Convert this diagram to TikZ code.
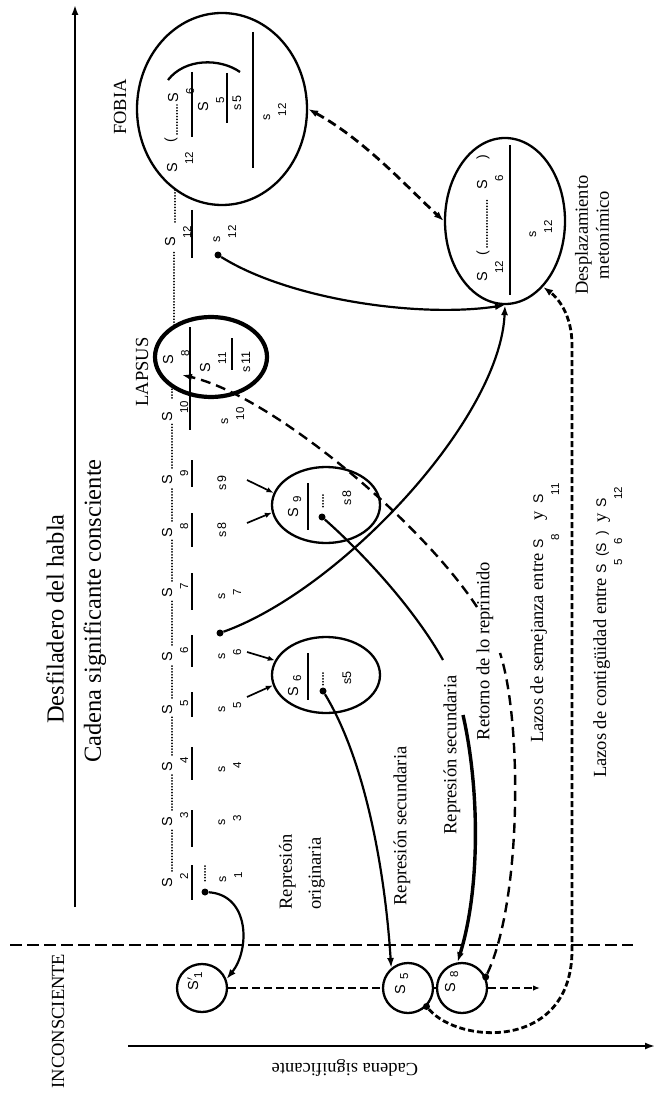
\documentclass[tikz,border=0pt]{standalone}
\usepackage{fontspec}
\setmainfont{Liberation Serif}
\newfontfamily\labfont{Liberation Sans}
\usetikzlibrary{arrows.meta,shapes.geometric}
\newcommand{\lowd}[2]{#1\kern-1.5pt\raisebox{-16pt}{\fontsize{11.5}{11.5}\selectfont #2}}
\newcommand{\nsd}[2]{#1\hspace{5pt}\raisebox{-3pt}{\fontsize{11.5}{11.5}\selectfont #2}}
\begin{document}
\begin{tikzpicture}[x=1pt,y=-1pt,
  capl/.style={font=\labfont\fontsize{14.5}{14.5}\selectfont, inner sep=0pt, anchor=base west, xshift=5pt, yshift=-4.8pt, rotate=90},
  lowl/.style={font=\labfont\fontsize{12.5}{12.5}\selectfont, inner sep=0pt, anchor=base west, xshift=3pt, yshift=-3pt, rotate=90},
  txt/.style={font=\fontsize{18.5}{21}\selectfont, inner sep=0pt, rotate=90},
  circ/.style={draw, ellipse, line width=2.3pt, inner sep=0pt},
  fracbar/.style={line width=2.8pt},
  chdots/.style={line width=1.8pt, dash pattern=on 0.1pt off 2.8pt, line cap=round},
  arr/.style={-{Latex[length=10pt,width=7pt]}},
  sarr/.style={line width=1.7pt, -{Latex[length=7pt,width=5.5pt]}},
  dotm/.style={circle, fill, inner sep=0pt, minimum size=7pt},
  conn/.style={line width=2.2pt},
  retd/.style={line width=2.4pt, dash pattern=on 10pt off 6pt},
  contd/.style={line width=2.8pt, dash pattern=on 6pt off 3pt},
  fmd/.style={line width=2.8pt, dash pattern=on 9pt off 5pt},
  shd/.style={line width=1.8pt, dash pattern=on 8pt off 4pt},
]
\useasboundingbox (0,0) rectangle (655,1099);
\fill[white] (0,0) rectangle (655,1099);

% axes
\coordinate (vA) at (75,907); \coordinate (vB) at (75,5);
\draw[line width=1.8pt, arr] (vA) -- (vB);
\coordinate (hA) at (128,1046); \coordinate (hB) at (655,1046);
\draw[line width=1.8pt, arr] (hA) -- (hB);
\coordinate (dA) at (10,945); \coordinate (dB) at (633,945);
\draw[line width=1.7pt, dash pattern=on 12pt off 5pt] (dA) -- (dB);

% titles
\node[txt, font=\fontsize{24.5}{26}\selectfont] (t1) at (55,619) {Desfiladero del habla};
\node[txt, font=\fontsize{24.5}{26}\selectfont] (t2) at (95,611) {Cadena significante consciente};
\node[txt] (inc) at (58,1021) {INCONSCIENTE};
\node[txt] (fob) at (120,107) {FOBIA};
\node[txt] (lap) at (142,372) {LAPSUS};
\node[inner sep=0pt, rotate=180, font=\fontsize{18.5}{21}\selectfont] (cs) at (345,1068) {Cadena significante};

% circles
\node[circ, minimum width=170pt, minimum height=192pt] (fobia) at (222,109) {};
\node[circ, minimum width=120pt, minimum height=166pt] (meto) at (505,221) {};
\node[circ, line width=4.2pt, minimum width=112pt, minimum height=80pt] (lapsus) at (211,357) {};
\node[circ, minimum width=108pt, minimum height=76pt] (c9) at (326,505) {};
\node[circ, minimum width=108pt, minimum height=76pt] (c6) at (326,675) {};
\node[circ, minimum width=50pt, minimum height=48pt] (u1) at (202,988) {};
\node[circ, minimum width=50pt, minimum height=50pt] (u5) at (408,988) {};
\node[circ, minimum width=50pt, minimum height=50pt] (u8) at (462,988) {};

% chain upper labels
\node[capl] (S2) at (167,883) {\lowd{S}{2}};
\node[capl] (S3) at (167,822) {\lowd{S}{3}};
\node[capl] (S4) at (167,767) {\lowd{S}{4}};
\node[capl] (S5) at (167,710) {\lowd{S}{5}};
\node[capl] (S6) at (167,657) {\lowd{S}{6}};
\node[capl] (S7) at (167,593) {\lowd{S}{7}};
\node[capl] (S8) at (167,533) {\lowd{S}{8}};
\node[capl] (S9) at (167,480) {\lowd{S}{9}};
\node[capl] (S10) at (167,417) {\lowd{S}{10}};
\node[capl] (LS8) at (168,360) {\lowd{S}{8}};
\node[capl] (S12) at (170,242) {\lowd{S}{12}};

% chain dots
\draw[chdots] (172,871) -- (172,829);
\draw[chdots] (172,810) -- (172,774);
\draw[chdots] (172,755) -- (172,717);
\draw[chdots] (172,698) -- (172,664);
\draw[chdots] (172,645) -- (172,600);
\draw[chdots] (172,581) -- (172,540);
\draw[chdots] (172,521) -- (172,487);
\draw[chdots] (172,468) -- (172,424);
\draw[chdots] (172,398) -- (172,388);
\draw[chdots] (174,328) -- (174,252);
\draw[chdots] (175,222) -- (175,190);

% chain bars
\draw[fracbar] (192,865) -- (192,900);
\draw[fracbar] (192,810) -- (192,847);
\draw[fracbar] (192,747) -- (192,780);
\draw[fracbar] (192,692) -- (192,717);
\draw[fracbar] (192,635) -- (192,667);
\draw[fracbar] (192,573) -- (192,610);
\draw[fracbar] (192,513) -- (192,547);
\draw[fracbar] (192,460) -- (192,487);
\draw[fracbar] (190,327) -- (190,430);
\draw[fracbar] (192,210) -- (192,258);

% chain lower labels
\node[lowl] (s1) at (223,880) {\lowd{s}{1}};
\node[lowl] (s3) at (222,823) {\lowd{s}{3}};
\node[lowl] (s4) at (222,770) {\lowd{s}{4}};
\node[lowl] (s5) at (222,710) {\lowd{s}{5}};
\node[lowl] (s6) at (222,657) {\lowd{s}{6}};
\node[lowl] (s7) at (222,597) {\lowd{s}{7}};
\node[lowl] (s8) at (223,535) {s\,8};
\node[lowl] (s9) at (223,488) {s\,9};
\node[lowl] (s10) at (225,422) {\lowd{s}{10}};
\node[lowl] (s12) at (217,240) {\lowd{s}{12}};
\draw[chdots] (205,866) -- (205,882);

% lapsus inner
\node[capl] (LS11) at (205,368) {\lowd{S}{11}};
\draw[line width=2.3pt] (232,338) -- (232,370);
\node[lowl] (Ls11) at (247,370) {s\,11};

% fobia inner
\node[capl] (FS12) at (172,168) {\lowd{S}{12}};
\node[inner sep=0pt, rotate=90, font=\labfont\fontsize{14}{14}\selectfont] (fp1) at (171,140) {(};
\draw[chdots] (177,134) -- (177,105);
\node[capl] (FS6) at (173,98) {\lowd{S}{6}};
\draw[line width=2.3pt] (168,80) .. controls (185,58) and (220,58) .. (240,72);
\draw[line width=2.3pt] (192,72) -- (192,137);
\node[capl] (FS5) at (203,107) {\lowd{S}{5}};
\draw[line width=2.3pt] (227,73) -- (227,123);
\node[lowl] (Fs5) at (238,108) {s\,5};
\draw[line width=2.3pt] (253,32) -- (253,168);
\node[lowl] (Fs12) at (267,118) {\lowd{s}{12}};

% meto inner
\node[capl] (MS12) at (482,277) {\lowd{S}{12}};
\node[inner sep=0pt, rotate=90, font=\labfont\fontsize{14}{14}\selectfont] (mp1) at (483,253) {(};
\draw[chdots] (487,247) -- (487,200);
\node[capl] (MS6) at (482,185) {\lowd{S}{6}};
\node[inner sep=0pt, rotate=90, font=\labfont\fontsize{14}{14}\selectfont] (mp2) at (483,157) {)};
\draw[line width=2.3pt] (510,145) -- (510,295);
\node[lowl] (Ms12) at (533,235) {\lowd{s}{12}};

% c6 inner
\node[capl] (CS6) at (293,692) {\nsd{S}{6}};
\draw[line width=2.3pt] (308,653) -- (308,700);
\draw[chdots] (323,673) -- (323,685);
\node[dotm] (dc6) at (323,691) {};
\node[lowl] (Cs5) at (348,682) {s5};

% c9 inner
\node[capl] (CS9) at (293,513) {\nsd{S}{9}};
\draw[line width=2.3pt] (308,483) -- (308,530);
\draw[chdots] (323,495) -- (323,507);
\node[dotm] (dc9) at (322,517) {};
\node[lowl] (Cs8) at (348,503) {s\,8};

% small arrows into c6, c9
\coordinate (a6) at (247,652); \coordinate (a5) at (247,697);
\coordinate (a9) at (247,480); \coordinate (a8) at (247,523);
\draw[sarr] (a6) -- (c6.164);
\draw[sarr] (a5) -- (c6.191);
\draw[sarr] (a9) -- (c9.167);
\draw[sarr] (a8) -- (c9.188);

% inconscious labels
\node[capl] (U1) at (193,986) {S$'$\kern-1pt\raisebox{-4pt}{\fontsize{11.5}{11.5}\selectfont 1}};
\node[capl] (U5) at (400,990) {\nsd{S}{5}};
\node[capl] (U8) at (450,988) {\nsd{S}{8}};

% dots
\node[dotm] (d1) at (205,892) {};
\node[dotm] (d6) at (220,633) {};
\node[dotm] (d12) at (218,255) {};
\node[dotm] (du8) at (u8.25) {};
\node[dotm] (du5) at (u5.-45) {};

% connectors
\draw[conn, arr] (d1) .. controls (250,895) and (250,950) .. (u1.20);
\draw[conn, arr] (d6) .. controls (340,590) and (500,420) .. (meto.south);
\draw[conn, arr] (d12) .. controls (290,300) and (420,318) .. (meto.south);
\draw[conn, arr] (dc6) .. controls (365,760) and (385,870) .. (u5.130);
\coordinate (r2a) at (443,660);
\draw[conn] (dc9) .. controls (365,555) and (415,610) .. (r2a);
\coordinate (r2b) at (463,715);
\draw[line width=3.4pt, arr] (r2b) .. controls (480,790) and (480,890) .. (u8.100);
\coordinate (retA) at (500,653);
\draw[retd] (du8) .. controls (522,900) and (522,720) .. (retA);
\coordinate (retB) at (477,607);
\coordinate (lapT) at (182,375);
\draw[retd, arr] (retB) .. controls (420,520) and (270,395) .. (lapT);
\draw[contd, arr] (du5) .. controls (460,1045) and (572,1050) .. (572,950) -- (572,345) .. controls (572,315) and (558,298) .. (meto.-60);
\draw[fmd, {Latex[length=10pt,width=7pt]}-{Latex[length=10pt,width=7pt]}] (fobia.east) .. controls (365,140) and (410,190) .. (meto.west);
\draw[shd] (u1.east) -- (u5.west);
\draw[line width=1.8pt] (u5.east) -- (u8.west);
\coordinate (u8e) at (540,988);
\draw[shd, -{Latex[length=7pt,width=5.5pt]}] (u8.east) -- (u8e);

% labels
\node[txt, align=left, font=\fontsize{18.5}{29}\selectfont] (ro) at (302,872) {Represión\\originaria};
\node[txt] (rs1) at (402,826) {Represión secundaria};
\node[txt] (rs2) at (452,755) {Represión secundaria};
\node[txt] (rr) at (485,651) {Retorno de lo reprimido};
\node[txt, align=center] (dm) at (592,235) {Desplazamiento\\metonímico};
\node[txt, anchor=base west] (lz1) at (543,743) {Lazos de semejanza entre {\labfont\fontsize{14}{14}\selectfont\lowd{S}{8}}\hspace{14pt}y\hspace{8pt}{\labfont\fontsize{14}{14}\selectfont\lowd{S}{11}}};
\node[txt, anchor=base west] (lz2) at (606,778) {Lazos de contigüidad entre {\labfont\fontsize{14}{14}\selectfont\lowd{S}{5}\,(\lowd{S}{6}\,)}\hspace{8pt}y\hspace{6pt}{\labfont\fontsize{14}{14}\selectfont\lowd{S}{12}}};
\end{tikzpicture}
\end{document}
